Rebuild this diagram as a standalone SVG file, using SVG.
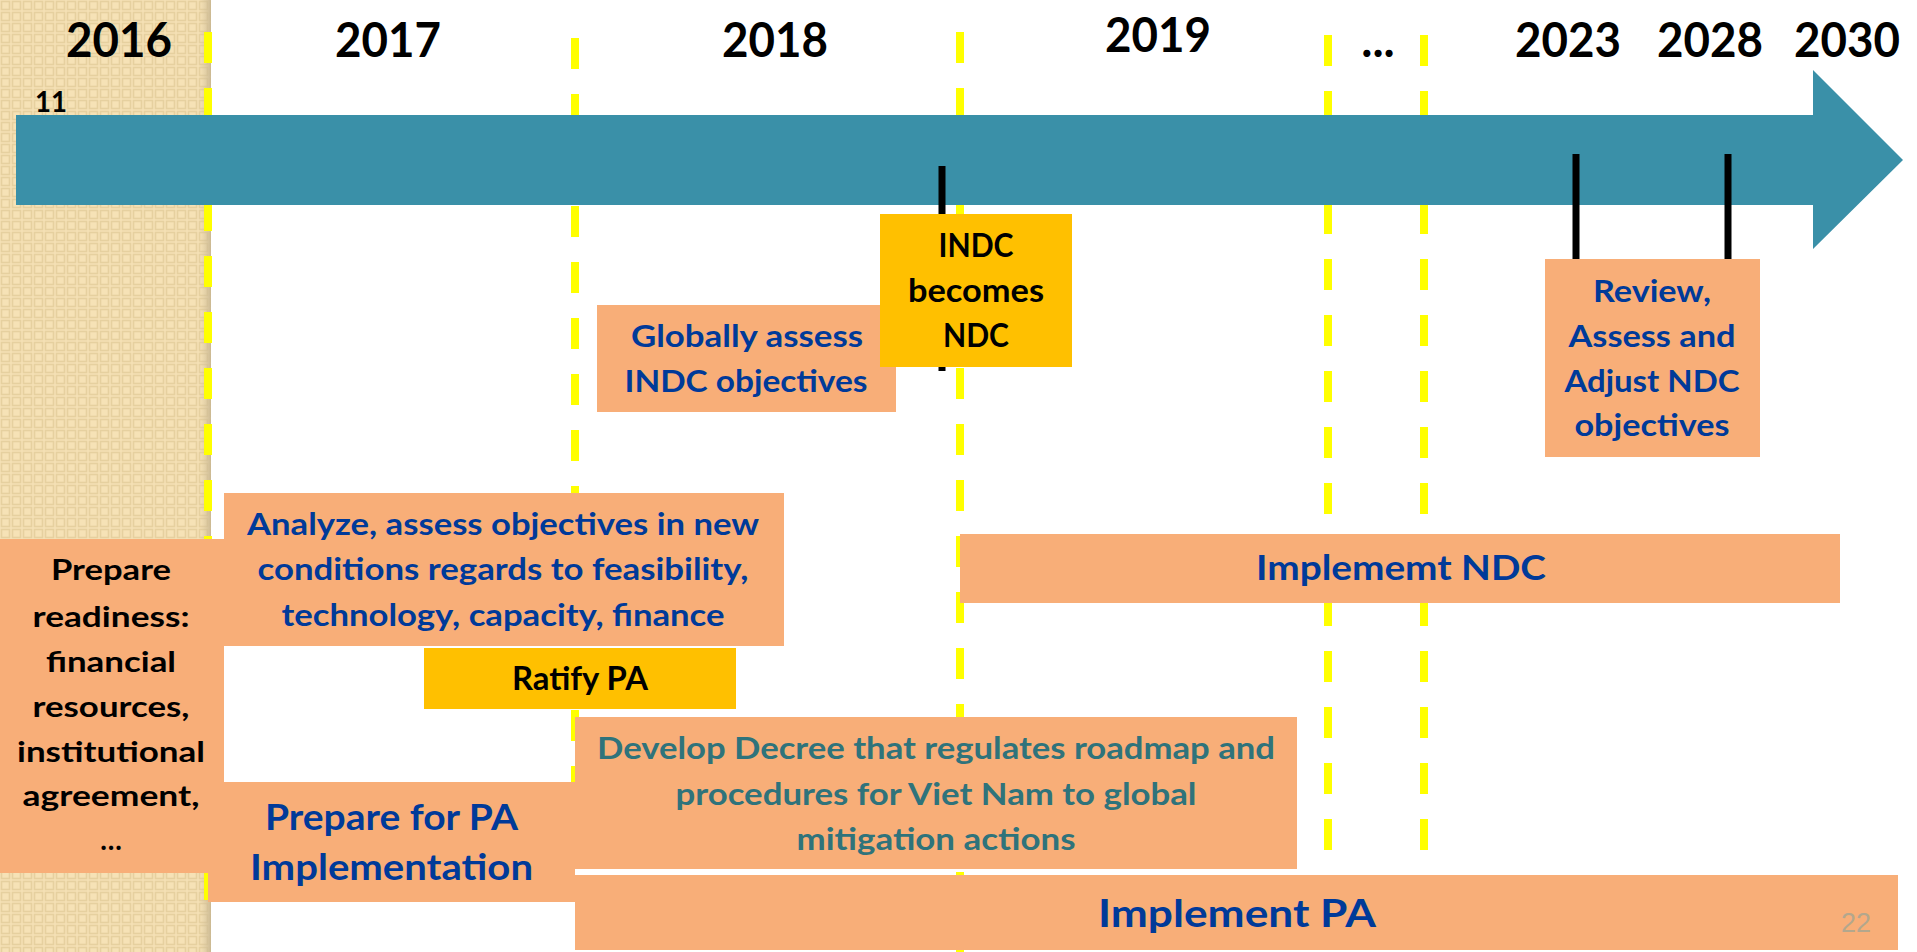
<svg xmlns="http://www.w3.org/2000/svg" width="1917" height="952" viewBox="0 0 1917 952">
<style>
.t{font-family:Lato,"Open Sans","Liberation Sans",sans-serif;font-weight:700;text-anchor:middle}
.yr{font-size:47px;fill:#000}
.blk{fill:#000}
.blu{fill:#003A99}
.teal{fill:#2F737B}
.peach{fill:#F8AE78}
.gold{fill:#FFC000}
.dash{stroke:#FFFF00;stroke-width:8;stroke-dasharray:31 25;fill:none}
.tick{stroke:#000;stroke-width:7}
</style>
<defs>
<pattern id="chk" width="11" height="11" patternUnits="userSpaceOnUse">
<rect width="11" height="11" fill="#F6E2B6"/>
<rect x="1.5" y="1.5" width="8" height="8" fill="none" stroke="#E6D09F" stroke-width="1.6"/>
</pattern>
<linearGradient id="shadow" x1="0" x2="1" y1="0" y2="0">
<stop offset="0" stop-color="#D9C7A0" stop-opacity="0"/>
<stop offset="1" stop-color="#C8B690" stop-opacity="0.9"/>
</linearGradient>
</defs>
<rect width="1917" height="952" fill="#FFFFFF"/>
<g id="panel2016">
<rect x="0" y="0" width="211" height="952" fill="url(#chk)"/>
<rect x="199" y="0" width="12" height="952" fill="url(#shadow)"/>
</g>
<g id="gridlines">
<line class="dash" x1="208" y1="32" x2="208" y2="900"/>
<line class="dash" x1="575" y1="38" x2="575" y2="900"/>
<line class="dash" x1="960" y1="32" x2="960" y2="952"/>
<line class="dash" x1="1328" y1="35" x2="1328" y2="851"/>
<line class="dash" x1="1424" y1="35" x2="1424" y2="851"/>
</g>
<g id="years">
<text class="t yr" x="119" y="57" textLength="106" lengthAdjust="spacingAndGlyphs">2016</text>
<text class="t yr" x="388" y="57" textLength="106" lengthAdjust="spacingAndGlyphs">2017</text>
<text class="t yr" x="775" y="57" textLength="106" lengthAdjust="spacingAndGlyphs">2018</text>
<text class="t yr" x="1158" y="52" textLength="106" lengthAdjust="spacingAndGlyphs">2019</text>
<text class="t yr" x="1378" y="57">...</text>
<text class="t yr" x="1568" y="57" textLength="106" lengthAdjust="spacingAndGlyphs">2023</text>
<text class="t yr" x="1710" y="57" textLength="106" lengthAdjust="spacingAndGlyphs">2028</text>
<text class="t yr" x="1847" y="57" textLength="106" lengthAdjust="spacingAndGlyphs">2030</text>
<text class="t blk" x="51" y="112" font-size="28" textLength="32" lengthAdjust="spacingAndGlyphs">11</text>
</g>
<g id="timeline-arrow">
<polygon points="16,115 1813,115 1813,70 1903,160 1813,249 1813,205 16,205" fill="#3A90A8"/>
</g>
<g id="connectors">
<line class="tick" x1="942" y1="166" x2="942" y2="371"/>
<line class="tick" x1="1576" y1="154" x2="1576" y2="259"/>
<line class="tick" x1="1728" y1="154" x2="1728" y2="259"/>
</g>
<g id="globally-assess">
<rect class="peach" x="597" y="305" width="299" height="107"/>
<text class="t blu" x="747" y="347" font-size="31" textLength="232" lengthAdjust="spacingAndGlyphs">Globally assess</text>
<text class="t blu" x="746" y="392" font-size="31" textLength="243" lengthAdjust="spacingAndGlyphs">INDC objectives</text>
</g>
<g id="indc-becomes-ndc">
<rect class="gold" x="880" y="214" width="192" height="153"/>
<text class="t blk" x="976" y="257" font-size="33" textLength="75" lengthAdjust="spacingAndGlyphs">INDC</text>
<text class="t blk" x="976" y="302" font-size="33" textLength="136" lengthAdjust="spacingAndGlyphs">becomes</text>
<text class="t blk" x="976" y="347" font-size="33" textLength="66" lengthAdjust="spacingAndGlyphs">NDC</text>
</g>
<g id="review">
<rect class="peach" x="1545" y="259" width="215" height="198"/>
<text class="t blu" x="1652" y="302" font-size="30" textLength="118" lengthAdjust="spacingAndGlyphs">Review,</text>
<text class="t blu" x="1652" y="347" font-size="30" textLength="167" lengthAdjust="spacingAndGlyphs">Assess and</text>
<text class="t blu" x="1652" y="392" font-size="30" textLength="175" lengthAdjust="spacingAndGlyphs">Adjust NDC</text>
<text class="t blu" x="1652" y="436" font-size="30" textLength="155" lengthAdjust="spacingAndGlyphs">objectives</text>
</g>
<g id="analyze">
<rect class="peach" x="224" y="493" width="560" height="153"/>
<text class="t blu" x="503" y="535" font-size="30" textLength="512" lengthAdjust="spacingAndGlyphs">Analyze, assess objectives in new</text>
<text class="t blu" x="503" y="580" font-size="30" textLength="491" lengthAdjust="spacingAndGlyphs">conditions regards to feasibility,</text>
<text class="t blu" x="503" y="626" font-size="30" textLength="443" lengthAdjust="spacingAndGlyphs">technology, capacity, finance</text>
</g>
<g id="implement-ndc">
<rect class="peach" x="960" y="534" width="880" height="69"/>
<text class="t blu" x="1401" y="580" font-size="34" textLength="290" lengthAdjust="spacingAndGlyphs">Implememt NDC</text>
</g>
<g id="ratify-pa">
<rect class="gold" x="424" y="648" width="312" height="61"/>
<text class="t blk" x="580" y="690" font-size="32" textLength="136" lengthAdjust="spacingAndGlyphs">Ratify PA</text>
</g>
<g id="prepare-readiness">
<rect class="peach" x="0" y="539" width="224" height="334"/>
<text class="t blk" x="111" y="580" font-size="28" textLength="120" lengthAdjust="spacingAndGlyphs">Prepare</text>
<text class="t blk" x="111" y="627" font-size="28" textLength="157" lengthAdjust="spacingAndGlyphs">readiness:</text>
<text class="t blk" x="111" y="672" font-size="28" textLength="130" lengthAdjust="spacingAndGlyphs">financial</text>
<text class="t blk" x="111" y="717" font-size="28" textLength="157" lengthAdjust="spacingAndGlyphs">resources,</text>
<text class="t blk" x="111" y="762" font-size="28" textLength="188" lengthAdjust="spacingAndGlyphs">institutional</text>
<text class="t blk" x="111" y="806" font-size="28" textLength="177" lengthAdjust="spacingAndGlyphs">agreement,</text>
<text class="t blk" x="111" y="850" font-size="28">…</text>
</g>
<g id="develop-decree">
<rect class="peach" x="575" y="717" width="722" height="152"/>
<text class="t teal" x="936" y="759" font-size="30" textLength="678" lengthAdjust="spacingAndGlyphs">Develop Decree that regulates roadmap and</text>
<text class="t teal" x="936" y="805" font-size="30" textLength="521" lengthAdjust="spacingAndGlyphs">procedures for Viet Nam to global</text>
<text class="t teal" x="936" y="850" font-size="30" textLength="279" lengthAdjust="spacingAndGlyphs">mitigation actions</text>
</g>
<g id="prepare-pa">
<rect class="peach" x="208" y="782" width="367" height="120"/>
<text class="t blu" x="391.5" y="830" font-size="36" textLength="253" lengthAdjust="spacingAndGlyphs">Prepare for PA</text>
<text class="t blu" x="391.5" y="880" font-size="36" textLength="283" lengthAdjust="spacingAndGlyphs">Implementation</text>
</g>
<g id="implement-pa">
<rect class="peach" x="575" y="875" width="1323" height="75"/>
<text class="t blu" x="1237" y="927" font-size="38" textLength="278" lengthAdjust="spacingAndGlyphs">Implement PA</text>
</g>
<text x="1856" y="932" font-family="Liberation Sans, Arial, sans-serif" font-size="27" fill="#B3A78D" text-anchor="middle">22</text>
</svg>
